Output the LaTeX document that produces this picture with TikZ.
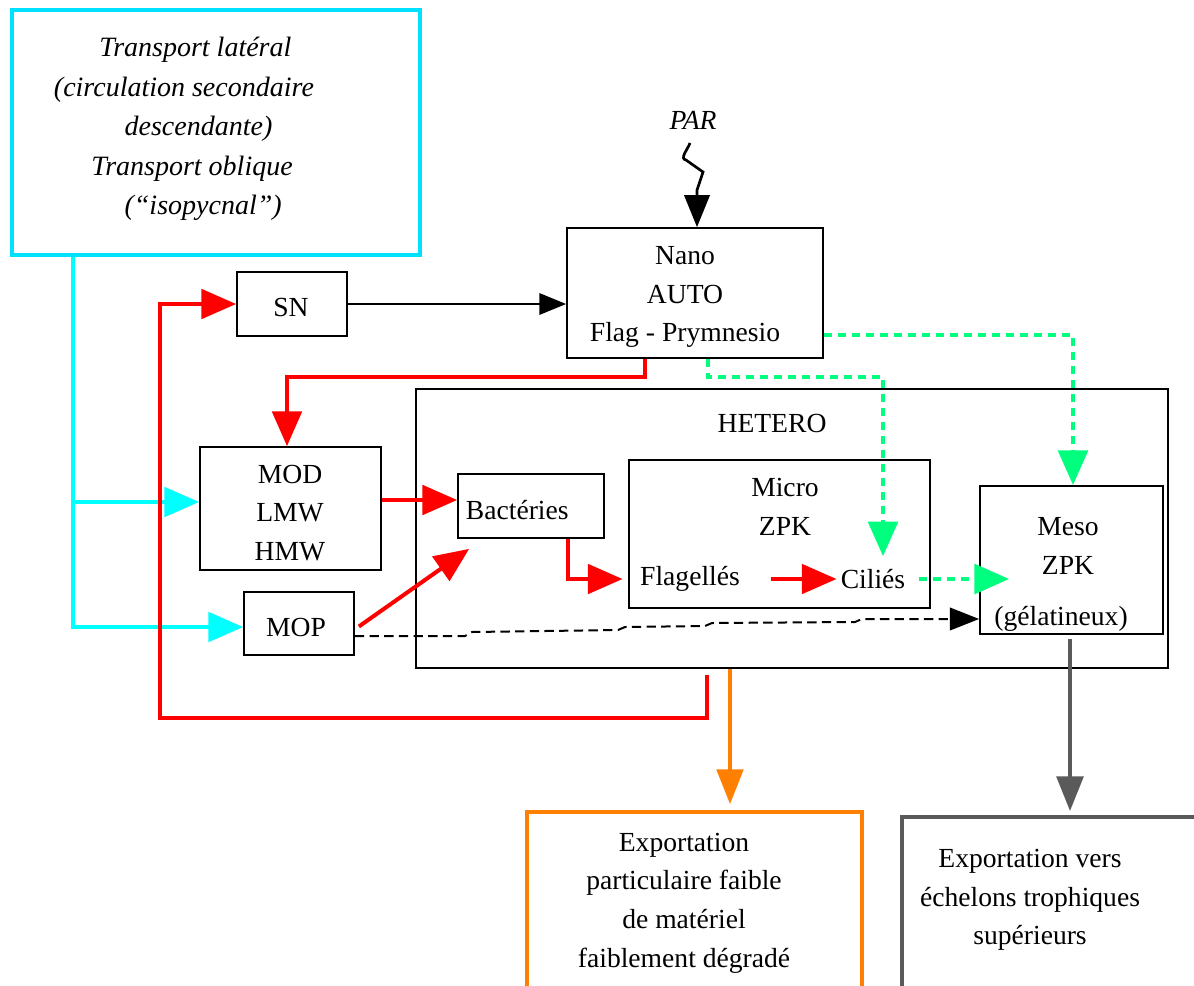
\documentclass[tikz,border=0pt]{standalone}
\usepackage{fontspec}
\setmainfont{Liberation Serif}
\usetikzlibrary{arrows.meta,fit,calc}
\definecolor{cyanbox}{RGB}{0,225,255}
\definecolor{cyanln}{RGB}{0,255,255}
\definecolor{grn}{RGB}{0,255,127}
\definecolor{org}{RGB}{255,128,0}
\definecolor{gry}{RGB}{90,90,90}
\begin{document}
\begin{tikzpicture}[x=0.75pt,y=-0.75pt,
  box/.style={draw, line width=1.3pt, inner sep=0pt},
  txt/.style={inner sep=2pt, font=\fontsize{20.7}{29}\selectfont, align=center},
  bigtip/.style={-{Triangle[length=26pt,width=22pt]}},
  redc/.style={draw=red, color=red, line width=3pt, bigtip},
  cync/.style={draw=cyanln, color=cyanln, line width=3pt, bigtip},
  grnc/.style={draw=grn, color=grn, line width=3.5pt, dash pattern=on 6pt off 4.5pt, bigtip},
  blkc/.style={draw=black, line width=1.5pt, -{Triangle[length=22pt,width=17pt]}},
  orgc/.style={draw=org, color=org, line width=2.5pt, -{Triangle[length=26pt,width=20pt]}},
  gryc/.style={draw=gry, color=gry, line width=3pt, -{Triangle[length=26pt,width=20pt]}}
]
\useasboundingbox (0,0) rectangle (1194,985);
% helper coordinates
\coordinate (X73) at (73,0);
\coordinate (X160) at (160,0);
\coordinate (X287) at (287,0);
\coordinate (X568) at (568,0);
\coordinate (X645) at (645,0);
\coordinate (X697) at (697,0);
\coordinate (X708) at (708,0);
\coordinate (X730) at (730,0);
\coordinate (X883) at (883,0);
\coordinate (X1070) at (1070,0);
\coordinate (X1073) at (1073,0);
\coordinate (Y335) at (0,335);
\coordinate (Y500) at (0,500);
\coordinate (Y502) at (0,502);
\coordinate (Y619) at (0,619);
\coordinate (Y627) at (0,627);
\coordinate (Y636) at (0,636);
\coordinate (Y718) at (0,718);
\coordinate (wav) at (690,143);
\coordinate (redstart) at (707,675);

% boxes
\node[box, draw=cyanbox, line width=3.5pt, fit={(12,10) (420,255)}] (cyanb) {};
\node[txt, align=left, anchor=west, font=\fontsize{21}{29.6}\selectfont\itshape] (trans) at (51,129)
  {\hspace*{34pt}Transport latéral\\(circulation secondaire\\\hspace*{53pt}descendante)\\\hspace*{28pt}Transport oblique\\\hspace*{53pt}(“isopycnal”)};
\node[txt, font=\fontsize{20.7}{29}\selectfont\itshape] (par) at (693,120) {PAR};

\node[box, fit={(567,228) (823,358)}] (nano) {};
\node[txt] (nanot) at (685,297) {Nano\\AUTO\\Flag - Prymnesio};

\node[box, fit={(237,272) (347,336)}] (sn) {};
\node[txt] (snt) at (291,307) {SN};

\node[box, fit={(200,447) (381,570)}] (mod) {};
\node[txt] (modt) at (290,513) {MOD\\LMW\\HMW};

\node[box, fit={(458,474) (604,538)}] (bact) {};
\node[txt, anchor=west] (bactt) at (463,510) {Bactéries};

\node[box, fit={(244,592) (354,655)}] (mop) {};
\node[txt] (mopt) at (296,627) {MOP};

\node[box, fit={(416,389) (1168,668)}] (hetero) {};
\node[txt] (heterot) at (772,423) {HETERO};

\node[box, fit={(629,460) (930,608)}] (micro) {};
\node[txt] (microt) at (785,507) {Micro\\ZPK};
\node[txt] (flag) at (690,579) {Flagellés};
\node[txt] (cil) at (873,579) {Ciliés};

\node[box, fit={(980,486) (1163,634)}] (meso) {};
\node[txt] (mesot) at (1068,546) {Meso\\ZPK};
\node[txt] (gel) at (1061,619) {(gélatineux)};

\node[box, draw=org, line width=3pt, fit={(527,812) (862,995)}] (orangeb) {};
\node[txt] (orangt) at (684,903) {Exportation\\particulaire faible\\de matériel\\faiblement dégradé};

\node[box, draw=gry, line width=3pt, fit={(902,817) (1205,995)}] (grayb) {};
\node[txt] (grayt) at (1030,900) {Exportation vers\\échelons trophiques\\supérieurs};

% cyan connectors
\draw[cync] (cyanb.south -| X73) |- (mop.west |- Y627);
\draw[cync] (X73 |- Y502) -- (mod.west |- Y502);

% red connectors
\draw[redc] (redstart) |- (X160 |- Y718) |- (sn.west);
\draw[redc] (nano.south -| X645) -- ++(0,18) -| (mod.north -| X287);
\draw[redc] (mod.east |- Y500) -- (bact.west |- Y500);
\draw[redc] ($(mop.east)+(4,3)$) -- ($(bact.south west)+(12,10)$);
\draw[redc] (bact.south -| X568) |- ([xshift=-11pt]flag.west);
\draw[redc] ([xshift=21pt]flag.east) -- ([xshift=-1pt]cil.west);

% green connectors
\draw[grnc] ([xshift=8pt]cil.east) -- ($(meso.west |- cil.east)+(30,0)$);
\draw[grnc] (nano.south -| X708) -- ++(0,18) -| ($(cil.north -| X883)+(0,-10)$);
\draw[grnc] (nano.east |- Y335) -| (meso.north -| X1073);

% black connectors
\draw[blkc, -{Triangle[length=20pt,width=16pt]}] (sn.east) -- (sn.east -| nano.west);
\draw[blkc, dash pattern=on 7pt off 4pt] (mop.east |- Y636) -- (465,636) -- (472,632) -- (618,630) -- (625,627) -- (705,626) -- (712,623) -- (855,622) -- (862,619) -- (meso.west |- Y619);
\draw[blkc, line width=2pt, -{Triangle[length=24pt,width=19pt]}] (wav) to[out=250,in=170] (686,160) -- (703,172) -- (697,190) -- (nano.north -| X697);

% exports
\draw[orgc] (hetero.south -| X730) -- ($(orangeb.north -| X730)+(0,-6)$);
\draw[gryc] ($(meso.south -| X1070)+(0,4)$) -- ($(grayb.north -| X1070)+(0,-4)$);
\end{tikzpicture}
\end{document}
